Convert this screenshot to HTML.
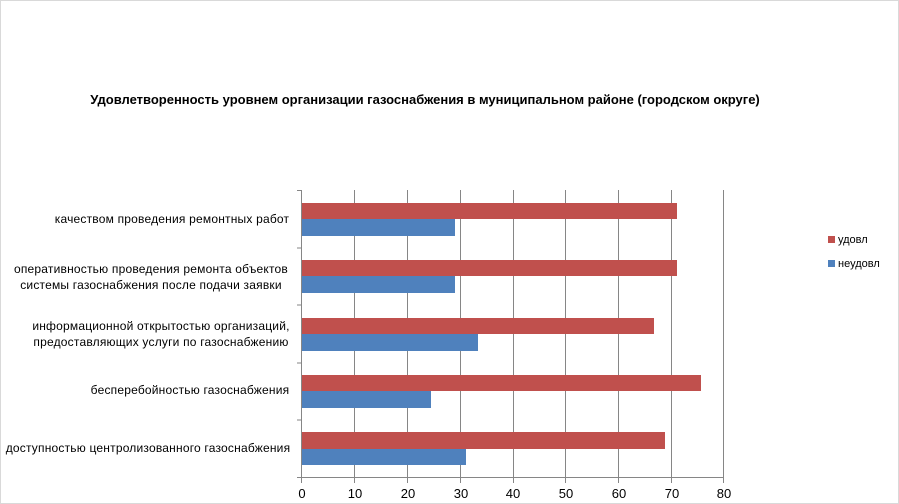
<!DOCTYPE html>
<html><head><meta charset="utf-8"><style>
body{margin:0;background:#fff}
svg{display:block;font-family:"Liberation Sans","DejaVu Sans",sans-serif}
</style></head><body>
<svg width="899" height="504" viewBox="0 0 899 504" xmlns="http://www.w3.org/2000/svg">
<rect x="0.5" y="0.5" width="898" height="503" fill="#fff" stroke="#d9d9d9"/>
<text x="425" y="104" text-anchor="middle" font-size="13" font-weight="bold" fill="#000">Удовлетворенность уровнем организации газоснабжения в муниципальном районе (городском округе)</text>
<g stroke="#868686" stroke-width="1">
<line x1="354.5" y1="190" x2="354.5" y2="478"/>
<line x1="407.5" y1="190" x2="407.5" y2="478"/>
<line x1="460.5" y1="190" x2="460.5" y2="478"/>
<line x1="513.5" y1="190" x2="513.5" y2="478"/>
<line x1="565.5" y1="190" x2="565.5" y2="478"/>
<line x1="618.5" y1="190" x2="618.5" y2="478"/>
<line x1="671.5" y1="190" x2="671.5" y2="478"/>
<line x1="723.5" y1="190" x2="723.5" y2="478"/>
</g>
<g fill="#c0504d">
<rect x="302" y="203" width="375" height="16"/>
<rect x="302" y="260" width="375" height="16"/>
<rect x="302" y="318" width="352" height="16"/>
<rect x="302" y="375" width="399" height="16"/>
<rect x="302" y="432" width="363" height="17"/>
</g>
<g fill="#4f81bd">
<rect x="302" y="219" width="153" height="17"/>
<rect x="302" y="276" width="153" height="17"/>
<rect x="302" y="334" width="176" height="17"/>
<rect x="302" y="391" width="129" height="17"/>
<rect x="302" y="449" width="164" height="16"/>
</g>
<g stroke="#868686" stroke-width="1">
<line x1="301.5" y1="190" x2="301.5" y2="478"/>
<line x1="297" y1="190.5" x2="302" y2="190.5"/>
<line x1="297" y1="248" x2="302" y2="248"/>
<line x1="297" y1="305" x2="302" y2="305"/>
<line x1="297" y1="363" x2="302" y2="363"/>
<line x1="297" y1="420" x2="302" y2="420"/>
<line x1="297" y1="477.5" x2="724" y2="477.5"/>
<line x1="301.5" y1="478" x2="301.5" y2="483"/>
<line x1="354.5" y1="478" x2="354.5" y2="483"/>
<line x1="407.5" y1="478" x2="407.5" y2="483"/>
<line x1="460.5" y1="478" x2="460.5" y2="483"/>
<line x1="513.5" y1="478" x2="513.5" y2="483"/>
<line x1="565.5" y1="478" x2="565.5" y2="483"/>
<line x1="618.5" y1="478" x2="618.5" y2="483"/>
<line x1="671.5" y1="478" x2="671.5" y2="483"/>
<line x1="723.5" y1="478" x2="723.5" y2="483"/>
</g>
<g font-size="13" fill="#000" text-anchor="middle">
<text x="302" y="498">0</text><text x="355" y="498">10</text><text x="408" y="498">20</text><text x="461" y="498">30</text><text x="513" y="498">40</text><text x="566" y="498">50</text><text x="619" y="498">60</text><text x="672" y="498">70</text><text x="724" y="498">80</text>
</g>
<g font-size="12" fill="#000" text-anchor="middle" letter-spacing="0.2">
<text x="172" y="223">качеством проведения ремонтных работ</text>
<text x="151" y="273">оперативностью проведения ремонта объектов</text>
<text x="151" y="289">системы газоснабжения после подачи заявки</text>
<text x="161" y="330">информационной открытостью организаций,</text>
<text x="161" y="346">предоставляющих услуги по газоснабжению</text>
<text x="190" y="394">бесперебойностью  газоснабжения</text>
<text x="148" y="452">доступностью центролизованного газоснабжения</text>
</g>
<rect x="828" y="236" width="7" height="7" fill="#c0504d"/>
<rect x="828" y="260" width="7" height="7" fill="#4f81bd"/>
<g font-size="11" fill="#000">
<text x="838" y="243">удовл</text>
<text x="838" y="267">неудовл</text>
</g>
</svg>
</body></html>
